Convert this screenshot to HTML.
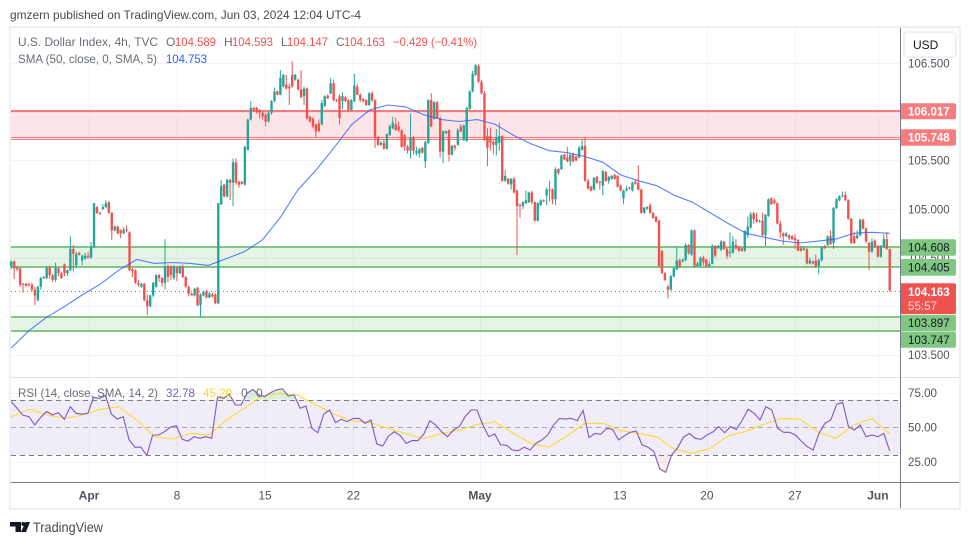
<!DOCTYPE html>
<html lang="en">
<head>
<meta charset="utf-8">
<title>U.S. Dollar Index 4h chart</title>
<style>
html,body{margin:0;padding:0;background:#fff;}
body{width:970px;height:545px;overflow:hidden;}
svg{display:block;font-family:"Liberation Sans",Arial,sans-serif;}
</style>
</head>
<body>
<svg id="chart" xmlns="http://www.w3.org/2000/svg" width="970" height="545" viewBox="0 0 970 545">
  <defs>
    <clipPath id="above70"><rect x="10" y="378" width="890" height="22.3"/></clipPath>
    <clipPath id="below30"><rect x="10" y="455.3" width="890" height="27"/></clipPath>
    <linearGradient id="osGrad" x1="0" y1="0" x2="0" y2="1"><stop offset="0" stop-color="#f23645" stop-opacity="0.3"/><stop offset="1" stop-color="#f23645" stop-opacity="0.06"/></linearGradient>
  </defs>
  <rect x="0" y="0" width="970" height="545" fill="#ffffff"/>
  <text x="10" y="19" font-size="12" fill="#4a4a4a" textLength="351" lengthAdjust="spacingAndGlyphs">gmzern published on TradingView.com, Jun 03, 2024 12:04 UTC-4</text>
  <rect x="10" y="27" width="950" height="482" fill="#ffffff" stroke="#eef0f4" stroke-width="2"/>
  <g id="grid"></g>
  <g id="zones"></g>
  <rect x="11" y="400.3" width="889" height="55" fill="#7e57c2" fill-opacity="0.11"/>
  <line x1="11" x2="900" y1="400.5" y2="400.5" stroke="#787b86" stroke-dasharray="5 4"/>
  <line x1="11" x2="900" y1="427.5" y2="427.5" stroke="#a9acb6" stroke-dasharray="5 4"/>
  <line x1="11" x2="900" y1="455.5" y2="455.5" stroke="#787b86" stroke-dasharray="5 4"/>
  <line x1="11" x2="900" y1="291.5" y2="291.5" stroke="#ef5350" stroke-dasharray="1 3"/>
  <g id="candles"></g>
  <path id="smaLine" fill="none" stroke="#2962ff" stroke-opacity="0.8" stroke-width="1.1"/>
  <path id="obFill" fill="#4caf50" fill-opacity="0.2" clip-path="url(#above70)"/>
  <path id="osFill" fill="url(#osGrad)" clip-path="url(#below30)"/>
  <path id="rsiSmaLine" fill="none" stroke="#fdd835" stroke-width="1.1"/>
  <path id="rsiLine" fill="none" stroke="#7e57c2" stroke-width="1.1"/>

  <line x1="11" x2="959" y1="377.5" y2="377.5" stroke="#e0e3eb"/>
  <line x1="11" x2="959" y1="482.5" y2="482.5" stroke="#787b86"/>
  <line x1="900.5" x2="900.5" y1="28" y2="508" stroke="#787b86"/>

  <g id="axisLabels" font-size="11.5" fill="#50535e"></g>

  <rect x="904" y="32" width="52" height="25" rx="4" fill="#ffffff" stroke="#eef0f4" stroke-width="2"/>
  <text x="913" y="49" font-size="12" fill="#131722">USD</text>

  <g font-size="11.5">
    <path d="M901 103.3h53a2 2 0 0 1 2 2v12a2 2 0 0 1-2 2h-53z" fill="#f77c80"/>
    <text x="908" y="115.5" fill="#ffffff" font-weight="bold" textLength="41.7" lengthAdjust="spacingAndGlyphs">106.017</text>
    <path d="M901 129.3h53a2 2 0 0 1 2 2v12.4a2 2 0 0 1-2 2h-53z" fill="#f77c80"/>
    <text x="908" y="141.5" fill="#ffffff" font-weight="bold" textLength="41.7" lengthAdjust="spacingAndGlyphs">105.748</text>
    <path d="M901 239.3h53a2 2 0 0 1 2 2v12.4a2 2 0 0 1-2 2h-53z" fill="#81c784"/>
    <text x="908" y="251.7" fill="#131722" textLength="41.7" lengthAdjust="spacingAndGlyphs">104.608</text>
    <path d="M901 259h53a2 2 0 0 1 2 2v12.7a2 2 0 0 1-2 2h-53z" fill="#81c784"/>
    <text x="908" y="271.5" fill="#131722" textLength="41.7" lengthAdjust="spacingAndGlyphs">104.405</text>
    <path d="M901 283.3h53a2 2 0 0 1 2 2v26.7a2 2 0 0 1-2 2h-53z" fill="#ef5350"/>
    <text x="908" y="296" fill="#ffffff" font-weight="bold" textLength="41.7" lengthAdjust="spacingAndGlyphs">104.163</text>
    <text x="908" y="310" fill="#ffd9d8" textLength="29" lengthAdjust="spacingAndGlyphs">55:57</text>
    <path d="M901 314.7h53a2 2 0 0 1 2 2v12.6a2 2 0 0 1-2 2h-53z" fill="#81c784"/>
    <text x="908" y="327.2" fill="#131722" textLength="41.7" lengthAdjust="spacingAndGlyphs">103.897</text>
    <path d="M901 331.7h53a2 2 0 0 1 2 2v12a2 2 0 0 1-2 2h-53z" fill="#81c784"/>
    <text x="908" y="344" fill="#131722" textLength="41.7" lengthAdjust="spacingAndGlyphs">103.747</text>
  </g>

  <g font-size="12">
    <text x="18" y="46" fill="#6a6d78" textLength="140" lengthAdjust="spacingAndGlyphs">U.S. Dollar Index, 4h, TVC</text>
    <text x="166" y="46" fill="#6a6d78">O</text>
    <text x="175" y="46" fill="#ef5350" textLength="41" lengthAdjust="spacingAndGlyphs">104.589</text>
    <text x="224" y="46" fill="#6a6d78">H</text>
    <text x="232" y="46" fill="#ef5350" textLength="41" lengthAdjust="spacingAndGlyphs">104.593</text>
    <text x="281" y="46" fill="#6a6d78">L</text>
    <text x="287" y="46" fill="#ef5350" textLength="41" lengthAdjust="spacingAndGlyphs">104.147</text>
    <text x="336" y="46" fill="#6a6d78">C</text>
    <text x="344" y="46" fill="#ef5350" textLength="41" lengthAdjust="spacingAndGlyphs">104.163</text>
    <text x="393" y="46" fill="#ef5350" textLength="84" lengthAdjust="spacingAndGlyphs">−0.429 (−0.41%)</text>
    <text x="18" y="63" fill="#6a6d78" textLength="139" lengthAdjust="spacingAndGlyphs">SMA (50, close, 0, SMA, 5)</text>
    <text x="166" y="63" fill="#2962ff" textLength="41" lengthAdjust="spacingAndGlyphs">104.753</text>
  </g>
  <g font-size="12">
    <text x="18" y="397" fill="#6a6d78" textLength="140" lengthAdjust="spacingAndGlyphs">RSI (14, close, SMA, 14, 2)</text>
    <text x="166" y="397" fill="#7e57c2" textLength="29" lengthAdjust="spacingAndGlyphs">32.78</text>
    <text x="203" y="397" fill="#fdd835" textLength="29" lengthAdjust="spacingAndGlyphs">45.20</text>
    <text x="241" y="397" fill="#6a6d78">0</text>
    <text x="256" y="397" fill="#6a6d78">0</text>
  </g>

  <g>
    <path d="M10 522h11v10h-5.500v-5.500H10z" fill="#131722"/>
    <circle cx="23.300" cy="524" r="2" fill="#131722"/>
    <path d="M25.500 522H30l-4 10h-5z" fill="#131722"/>
    <text x="33" y="532" font-size="14" fill="#4a4a4a" textLength="70" lengthAdjust="spacingAndGlyphs">TradingView</text>
  </g>
</svg>
<script>
const opens = [
104.41,104.46,104.40,104.39,104.23,104.23,104.23,104.22,104.17,104.06,
104.20,104.29,104.29,104.40,104.32,104.27,104.39,104.34,104.43,104.34,
104.37,104.59,104.42,104.55,104.47,104.49,104.52,104.50,104.61,105.02,
104.96,105.00,105.02,105.07,104.96,104.78,104.82,104.78,104.75,104.79,
104.76,104.38,104.37,104.24,104.20,104.23,104.06,104.00,104.11,104.20,
104.32,104.29,104.24,104.41,104.41,104.29,104.40,104.34,104.41,104.30,
104.20,104.13,104.11,104.19,104.01,104.11,104.15,104.09,104.12,104.12,
104.03,
105.05,105.25,105.13,105.30,105.27,105.48,105.28,105.28,105.25,105.61,
105.92,106.04,106.04,106.02,105.99,105.97,105.90,105.99,106.11,106.21,
106.175,106.26,106.28,106.26,106.38,106.33,106.33,106.23,106.16,106.24,
105.95,105.93,105.87,105.88,105.87,106.06,106.165,106.19,106.295,106.12,
106.16,106.11,106.15,106.12,106.02,106.11,106.26,106.175,106.13,106.12,
106.07,106.19,106.12,105.74,105.66,105.68,105.62,105.76,105.83,105.87,
105.85,105.81,105.76,105.64,105.60,105.74,105.57,105.57,105.63,105.49,
105.68,106.12,105.93,106.10,105.935,105.59,105.78,105.81,105.56,105.65,
105.66,105.85,105.71,105.70,106.03,106.21,106.38,106.47,106.31,106.19,
105.75,105.75,105.69,105.66,105.68,105.75,105.29,105.31,105.25,105.31,
105.19,105.04,105.03,105.06,105.07,105.17,105.07,104.88,105.04,105.09,
105.14,105.20,105.20,105.10,105.41,105.41,105.56,105.53,105.49,105.56,
105.54,105.53,105.61,105.65,105.29,105.23,105.20,105.33,105.28,105.24,
105.38,105.29,105.31,105.35,105.34,105.24,105.11,105.19,105.22,105.19,
105.28,105.27,105.20,104.96,105.005,105.04,104.96,104.92,104.88,104.57,
104.34,104.20,104.17,104.305,104.38,104.47,104.46,104.475,104.63,104.53,
104.78,104.41,104.415,104.50,104.48,104.41,104.435,104.62,104.595,104.58,
104.665,104.59,104.545,104.55,104.63,104.61,104.595,104.57,104.73,104.81,
104.956,104.895,104.87,104.88,104.73,104.93,105.11,105.09,105.06,104.85,
104.75,104.72,104.73,104.72,104.70,104.68,104.595,104.58,104.585,104.44,
104.46,
104.47,104.415,104.475,104.62,104.63,104.72,104.65,105.01,105.09,105.13,
105.145,105.09,104.90,104.72,104.70,104.73,104.89,104.80,104.65,104.56,
104.675,104.62,104.51,104.61,104.69,104.589];
const closes = [
104.46,104.39,104.38,104.22,104.22,104.21,104.22,104.17,104.11,104.20,
104.29,104.30,104.40,104.32,104.27,104.40,104.34,104.29,104.34,104.37,
104.59,104.54,104.54,104.53,104.52,104.52,104.50,104.61,105.06,104.96,
104.95,105.02,105.06,104.96,104.78,104.82,104.75,104.75,104.79,104.78,
104.37,104.36,104.24,104.22,104.23,104.06,104.00,104.11,104.24,104.32,
104.29,104.24,104.41,104.30,104.32,104.41,104.34,104.41,104.30,104.20,
104.13,104.11,104.18,104.01,104.12,104.15,104.09,104.13,104.10,104.03,
105.06,
105.24,105.13,105.30,105.27,105.48,105.27,105.25,105.26,105.64,105.92,
106.04,106.02,106.00,105.99,105.95,105.90,105.99,106.11,106.21,106.175,
106.35,106.38,106.24,106.24,106.26,106.38,106.23,106.15,106.24,105.93,
105.90,105.85,105.80,105.80,106.09,106.16,106.14,106.295,106.12,106.11,
105.935,106.16,106.11,106.02,106.12,106.27,106.175,106.12,106.11,106.07,
106.19,106.12,105.74,105.66,105.68,105.62,105.77,105.85,105.89,105.815,
105.81,105.64,105.64,105.60,105.74,105.60,105.60,105.62,105.58,105.69,
106.12,105.85,106.10,105.935,105.59,105.80,105.80,105.56,105.65,105.63,
105.81,105.80,105.86,106.04,106.21,106.39,106.48,106.31,106.19,105.71,
105.63,105.68,105.66,105.74,105.75,105.29,105.34,105.26,105.31,105.17,
105.03,105.03,105.07,105.09,105.17,105.07,104.88,105.06,105.09,105.08,
105.20,105.19,105.10,105.41,105.37,105.55,105.51,105.49,105.56,105.49,
105.50,105.63,105.65,105.29,105.21,105.19,105.32,105.27,105.27,105.39,
105.29,105.33,105.34,105.31,105.23,105.19,105.19,105.21,105.21,105.27,
105.26,105.20,104.96,105.015,105.02,104.96,104.91,104.87,104.415,104.34,
104.27,104.17,104.31,104.39,104.47,104.41,104.48,104.63,104.545,104.78,
104.41,104.44,104.50,104.45,104.41,104.435,104.62,104.52,104.62,104.665,
104.59,104.52,104.56,104.665,104.595,104.57,104.57,104.775,104.82,104.945,
104.895,104.87,104.88,104.73,104.94,105.10,105.05,105.06,104.85,104.76,
104.72,104.75,104.70,104.69,104.68,104.57,104.57,104.595,104.44,104.47,
104.44,
104.41,104.475,104.61,104.595,104.72,104.64,105.01,105.10,105.13,105.14,
105.09,104.90,104.65,104.65,104.73,104.89,104.80,104.665,104.56,104.665,
104.61,104.51,104.62,104.69,104.59,104.163];
const highs = [
104.47,104.47,104.41,104.40,104.24,104.24,104.24,104.24,104.20,104.21,
104.30,104.31,104.41,104.42,104.33,104.45,104.40,104.35,104.44,104.38,
104.72,104.63,104.56,104.56,104.53,104.55,104.56,104.66,105.06,105.03,
104.97,105.05,105.09,105.08,104.97,104.83,104.83,104.79,104.81,104.83,
104.77,104.39,104.38,104.27,104.24,104.24,104.12,104.12,104.25,104.33,
104.33,104.30,104.69,104.43,104.42,104.42,104.41,104.42,104.43,104.31,
104.21,104.14,104.19,104.20,104.13,104.16,104.17,104.15,104.14,104.13,
105.06,
105.30,105.26,105.31,105.31,105.52,105.52,105.29,105.29,105.65,105.93,
106.11,106.05,106.05,106.03,106.00,105.98,106.00,106.12,106.25,106.22,
106.43,106.39,106.38,106.29,106.52,106.39,106.34,106.43,106.26,106.25,
105.96,105.94,105.88,105.92,106.12,106.17,106.18,106.35,106.33,106.13,
106.18,106.20,106.16,106.13,106.13,106.39,106.29,106.19,106.14,106.13,
106.20,106.21,106.13,105.75,105.70,105.72,105.78,105.87,105.95,105.94,
105.90,105.82,105.77,105.66,105.98,105.75,105.64,105.63,105.64,105.70,
106.13,106.19,106.11,106.11,105.95,105.81,105.81,105.82,105.66,105.66,
105.83,105.87,105.87,106.05,106.22,106.42,106.49,106.49,106.33,106.21,
105.83,105.84,105.72,105.82,105.89,105.76,105.40,105.32,105.32,105.33,
105.20,105.06,105.08,105.19,105.18,105.19,105.08,105.07,105.10,105.10,
105.22,105.29,105.21,105.43,105.42,105.56,105.57,105.64,105.57,105.58,
105.55,105.65,105.72,105.74,105.31,105.24,105.33,105.34,105.29,105.40,
105.39,105.34,105.35,105.36,105.35,105.25,105.20,105.24,105.23,105.28,
105.30,105.45,105.21,105.02,105.03,105.06,104.97,104.93,104.89,104.58,
104.35,104.22,104.32,104.40,104.61,104.49,104.49,104.65,104.64,104.79,
104.79,104.46,104.51,104.52,104.49,104.46,104.64,104.63,104.63,104.68,
104.67,104.60,104.76,104.72,104.69,104.62,104.60,104.78,104.92,104.97,
104.97,104.96,104.89,104.96,104.95,105.11,105.12,105.11,105.07,104.88,
104.76,104.76,104.74,104.73,104.74,104.69,104.62,104.62,104.60,104.50,
104.47,
104.53,104.49,104.62,104.63,104.73,104.78,105.02,105.11,105.14,105.18,
105.18,105.10,104.91,104.76,104.78,104.90,104.90,104.81,104.66,104.70,
104.69,104.63,104.63,104.74,104.76,104.593];
const lows = [
104.38,104.28,104.36,104.20,104.14,104.20,104.20,104.15,104.01,104.05,
104.17,104.28,104.28,104.28,104.25,104.25,104.31,104.28,104.31,104.31,
104.36,104.36,104.39,104.52,104.42,104.48,104.49,104.49,104.60,104.95,
104.94,104.99,105.01,104.95,104.68,104.77,104.74,104.70,104.74,104.76,
104.36,104.30,104.23,104.20,104.19,104.05,103.91,103.99,104.09,104.19,
104.25,104.20,104.17,104.25,104.27,104.27,104.26,104.33,104.29,104.19,
104.10,104.11,104.10,104.00,103.89,104.10,104.08,104.08,104.09,104.02,
104.02,
105.04,105.12,105.12,105.09,105.03,105.25,105.22,105.25,105.24,105.60,
105.91,106.00,105.98,105.93,105.92,105.85,105.89,105.97,106.10,106.17,
106.17,106.25,106.23,106.07,106.25,106.32,106.22,106.14,106.07,105.92,
105.89,105.83,105.74,105.79,105.86,106.05,106.13,106.18,106.11,106.10,
105.87,106.03,106.10,106.00,106.01,106.10,106.17,106.10,106.09,106.06,
106.06,106.10,105.63,105.65,105.65,105.61,105.61,105.75,105.82,105.80,
105.79,105.63,105.60,105.57,105.52,105.56,105.55,105.53,105.57,105.42,
105.67,105.84,105.92,105.93,105.53,105.47,105.77,105.49,105.55,105.60,
105.65,105.79,105.70,105.69,106.02,106.20,106.37,106.30,106.18,105.70,
105.44,105.60,105.56,105.55,105.60,105.28,105.28,105.25,105.20,105.16,
104.525,104.91,105.00,105.05,105.06,105.05,104.87,104.87,105.03,105.07,
105.04,105.08,105.05,105.04,105.35,105.40,105.50,105.48,105.44,105.48,
105.49,105.52,105.60,105.28,105.20,105.18,105.19,105.26,105.20,105.14,
105.28,105.26,105.30,105.30,105.22,105.18,105.05,105.18,105.20,105.18,
105.25,105.19,104.95,104.95,104.99,104.95,104.90,104.86,104.40,104.33,
104.26,104.08,104.16,104.30,104.37,104.39,104.45,104.46,104.53,104.52,
104.40,104.40,104.41,104.42,104.40,104.40,104.43,104.50,104.59,104.57,
104.58,104.49,104.50,104.54,104.585,104.56,104.56,104.56,104.70,104.80,
104.85,104.86,104.86,104.72,104.62,104.92,105.04,105.05,104.84,104.70,
104.63,104.71,104.68,104.68,104.59,104.57,104.56,104.57,104.43,104.43,
104.43,
104.40,104.33,104.46,104.59,104.62,104.63,104.59,105.00,105.08,105.12,
105.08,104.89,104.64,104.64,104.69,104.72,104.79,104.65,104.37,104.55,
104.60,104.50,104.50,104.60,104.58,104.147];
const smaValues = [
103.57,103.75,103.89,104.00,104.12,104.23,104.37,104.48,104.44,104.45,
104.44,104.42,104.49,104.56,104.68,104.91,105.20,105.40,105.63,105.87,
106.02,106.07,106.05,105.97,105.92,105.90,105.92,105.87,105.76,105.67,
105.60,105.58,105.54,105.48,105.35,105.29,105.24,105.14,105.07,104.96,
104.85,104.75,104.71,104.67,104.65,104.67,104.69,104.75,104.76,104.75];
const rsiValues = [
68.7,63.8,58.7,57.8,51.7,57.3,61.4,59,60.7,55.8,65,60.2,59.5,60.2,71.8,71,73.3,59.5,56,57.8,
40.8,35.5,35.5,29.6,44.4,44.4,46.8,50,51.2,41.3,40,43.2,42,43.2,42,72.3,71,74.2,66.2,66.2,
74.7,77.6,73.5,72.3,75.2,77.2,78,72.8,73.5,63.8,65.5,49.3,46.1,
59.5,62.6,53.4,55.8,54.1,56.5,56.5,52.9,55.3,37.9,36.4,43.7,46.8,43.9,38.4,40.3,40.3,45.2,54.8,51.7,
46.8,43.2,48,50.5,57.8,62.6,62.6,51.7,43.2,45.2,37.2,36.9,33.5,33,35.5,33.5,38.4,40.8,44.4,51.7,
56.5,56,56.5,54.8,62.2,42.5,45.6,44.9,49.3,48.5,40.8,43.9,46.4,47.3,
37.2,35.5,32.3,19.7,17.3,29.9,35,42.7,45.6,42,41.3,44.4,46.6,50.5,46.1,50.5,48.5,55.3,63.1,60.2,
55.3,65,62.6,49.3,46.4,46.4,44.4,40,35.9,33.5,45.6,52.9,55.3,66.7,68.2,50.5,48.1,51.7,43.2,44.4,
43.2,45.6,32.78];
const rsiSmaValues = [
57.8,63.1,59,56.5,59,63.1,65,55.3,43.2,41.5,45.6,44.4,55.3,63.8,72.8,74.7,73.3,66.2,
59.7,54.8,53.6,49.3,45.4,41.8,45.6,48,52.2,53.9,45.6,38.4,35.5,43.7,52.9,52.9,47.6,45.6,
43.2,34,31.1,34.7,43.9,47.1,52.4,56.5,55.8,46.6,42,51.7,56.5,45.2];
const priceTicks = [106.5,106,105.5,105,104.5,104,103.5];
const priceTickLabels = ['106.500','','105.500','105.000','104.500','','103.500'];
const rsiTicks = [75,50,25];
const rsiTickLabels = ['75.00','50.00','25.00'];
const timeTickBars = [26.3,56.05,85.8,115.7,158.5,205.8,235.2,264.97,293];
const timeTickLabels = ['Apr','8','15','22','May','13','20','27','Jun'];
const zoneHighs = [106.01,104.608,103.89];
const zoneLows = [105.72,104.405,103.747];
const zoneFills = ['rgba(242,54,69,0.13)','rgba(76,175,80,0.14)','rgba(76,175,80,0.14)'];
const zoneStrokes = ['#f77c80','#81c784','#81c784'];
const extraLevels = [105.74];

const NS = 'http://www.w3.org/2000/svg';
function xBar(i){ return 11.2 + i * 2.958; }
function yPrice(p){ return 209 - (p - 105) * 97.2; }
function yRsi(v){ return 427.3 - (v - 50) * 1.375; }
function mk(tag, parent){ const e = document.createElementNS(NS, tag); parent.appendChild(e); return e; }
const lastBar = opens.length - 1;

/* grid */
const grid = document.getElementById('grid');
priceTicks.forEach(function(p){
  const l = mk('line', grid);
  
  
  l.setAttribute('x1', 11); l.setAttribute('x2', 900);
  const y = Math.round(yPrice(p)) + 0.5;
  l.setAttribute('y1', y); l.setAttribute('y2', y);
  l.setAttribute('stroke', '#f0f3fa');
});
rsiTicks.forEach(function(v){
  if (v === 50) return;
  const l = mk('line', grid);
  
  
  l.setAttribute('x1', 11); l.setAttribute('x2', 900);
  const y = Math.round(yRsi(v)) + 0.5;
  l.setAttribute('y1', y); l.setAttribute('y2', y);
  l.setAttribute('stroke', '#f0f3fa');
});
timeTickBars.forEach(function(b){
  const l = mk('line', grid);
  
  
  const x = Math.round(xBar(b)) + 0.5;
  l.setAttribute('x1', x); l.setAttribute('x2', x);
  l.setAttribute('y1', 28); l.setAttribute('y2', 482);
  l.setAttribute('stroke', '#f0f3fa');
});

/* zones */
const zones = document.getElementById('zones');
zoneHighs.forEach(function(hi, k){
  const yt = Math.round(yPrice(hi)), yb = Math.round(yPrice(zoneLows[k]));
  const r = mk('rect', zones);
  
  
  r.setAttribute('x', 11); r.setAttribute('width', 889);
  r.setAttribute('y', yt); r.setAttribute('height', yb - yt);
  r.setAttribute('fill', zoneFills[k]);
  const t = mk('line', zones);
  
  
  t.setAttribute('x1', 11); t.setAttribute('x2', 900);
  t.setAttribute('y1', yt); t.setAttribute('y2', yt);
  t.setAttribute('stroke', zoneStrokes[k]); t.setAttribute('stroke-width', 2);
  const b = mk('line', zones);
  
  
  b.setAttribute('x1', 11); b.setAttribute('x2', 900);
  const by = k === 0 ? yb + 0.5 : yb;
  b.setAttribute('y1', by); b.setAttribute('y2', by);
  b.setAttribute('stroke', zoneStrokes[k]); b.setAttribute('stroke-width', k === 0 ? 1 : 2);
});
extraLevels.forEach(function(p){
  const l = mk('line', zones);
  
  
  l.setAttribute('x1', 11); l.setAttribute('x2', 900);
  const y = Math.round(yPrice(p)) + 0.5;
  l.setAttribute('y1', y); l.setAttribute('y2', y);
  l.setAttribute('stroke', '#f77c80');
});

/* candles */
const candles = document.getElementById('candles');
opens.forEach(function(o, i){
  const c = closes[i], up = c >= o, col = up ? '#26a69a' : '#ef5350', x = xBar(i);
  const w = mk('line', candles);
  
  
  w.setAttribute('x1', x); w.setAttribute('x2', x);
  w.setAttribute('y1', yPrice(highs[i])); w.setAttribute('y2', yPrice(lows[i]));
  w.setAttribute('stroke', col); w.setAttribute('stroke-width', 1);
  const top = yPrice(Math.max(o, c)), bot = yPrice(Math.min(o, c));
  const b = mk('rect', candles);
  
  
  b.setAttribute('x', x - 1.2); b.setAttribute('width', 2.4);
  b.setAttribute('y', top); b.setAttribute('height', Math.max(bot - top, 1));
  b.setAttribute('fill', col);
});

/* lines */
function linePath(vals, yFn){
  const step = lastBar / (vals.length - 1);
  return vals.map(function(v, k){ return (k ? 'L' : 'M') + xBar(k * step).toFixed(1) + ' ' + yFn(v).toFixed(1); }).join('');
}
document.getElementById('smaLine').setAttribute('d', linePath(smaValues, yPrice));
document.getElementById('rsiLine').setAttribute('d', linePath(rsiValues, yRsi));
document.getElementById('rsiSmaLine').setAttribute('d', linePath(rsiSmaValues, yRsi));
const rsiPath = linePath(rsiValues, yRsi);
const xEnd = xBar(lastBar).toFixed(1), xStart = xBar(0).toFixed(1);
document.getElementById('obFill').setAttribute('d', rsiPath + 'L' + xEnd + ' ' + yRsi(70) + 'L' + xStart + ' ' + yRsi(70) + 'Z');
document.getElementById('osFill').setAttribute('d', rsiPath + 'L' + xEnd + ' ' + yRsi(30) + 'L' + xStart + ' ' + yRsi(30) + 'Z');

/* axis labels */
const axisLabels = document.getElementById('axisLabels');
priceTicks.forEach(function(p, k){
  if (!priceTickLabels[k]) return;
  const t = mk('text', axisLabels);
  
  
  t.setAttribute('x', 908);
  t.setAttribute('y', yPrice(p) + 4.3);
  t.setAttribute('textLength', 41.7);
  t.setAttribute('lengthAdjust', 'spacingAndGlyphs');
  t.textContent = priceTickLabels[k];
});
rsiTicks.forEach(function(v, k){
  const t = mk('text', axisLabels);
  
  
  t.setAttribute('x', 908);
  t.setAttribute('y', yRsi(v) + 4.3);
  t.setAttribute('textLength', 29);
  t.setAttribute('lengthAdjust', 'spacingAndGlyphs');
  t.textContent = rsiTickLabels[k];
});
timeTickBars.forEach(function(b, k){
  const t = mk('text', axisLabels);
  
  
  t.setAttribute('x', xBar(b));
  t.setAttribute('y', 499.5);
  t.setAttribute('text-anchor', 'middle');
  t.setAttribute('font-size', 12);
  if (isNaN(parseInt(timeTickLabels[k], 10))) t.setAttribute('font-weight', 'bold');
  t.textContent = timeTickLabels[k];
});
</script>
</body>
</html>
